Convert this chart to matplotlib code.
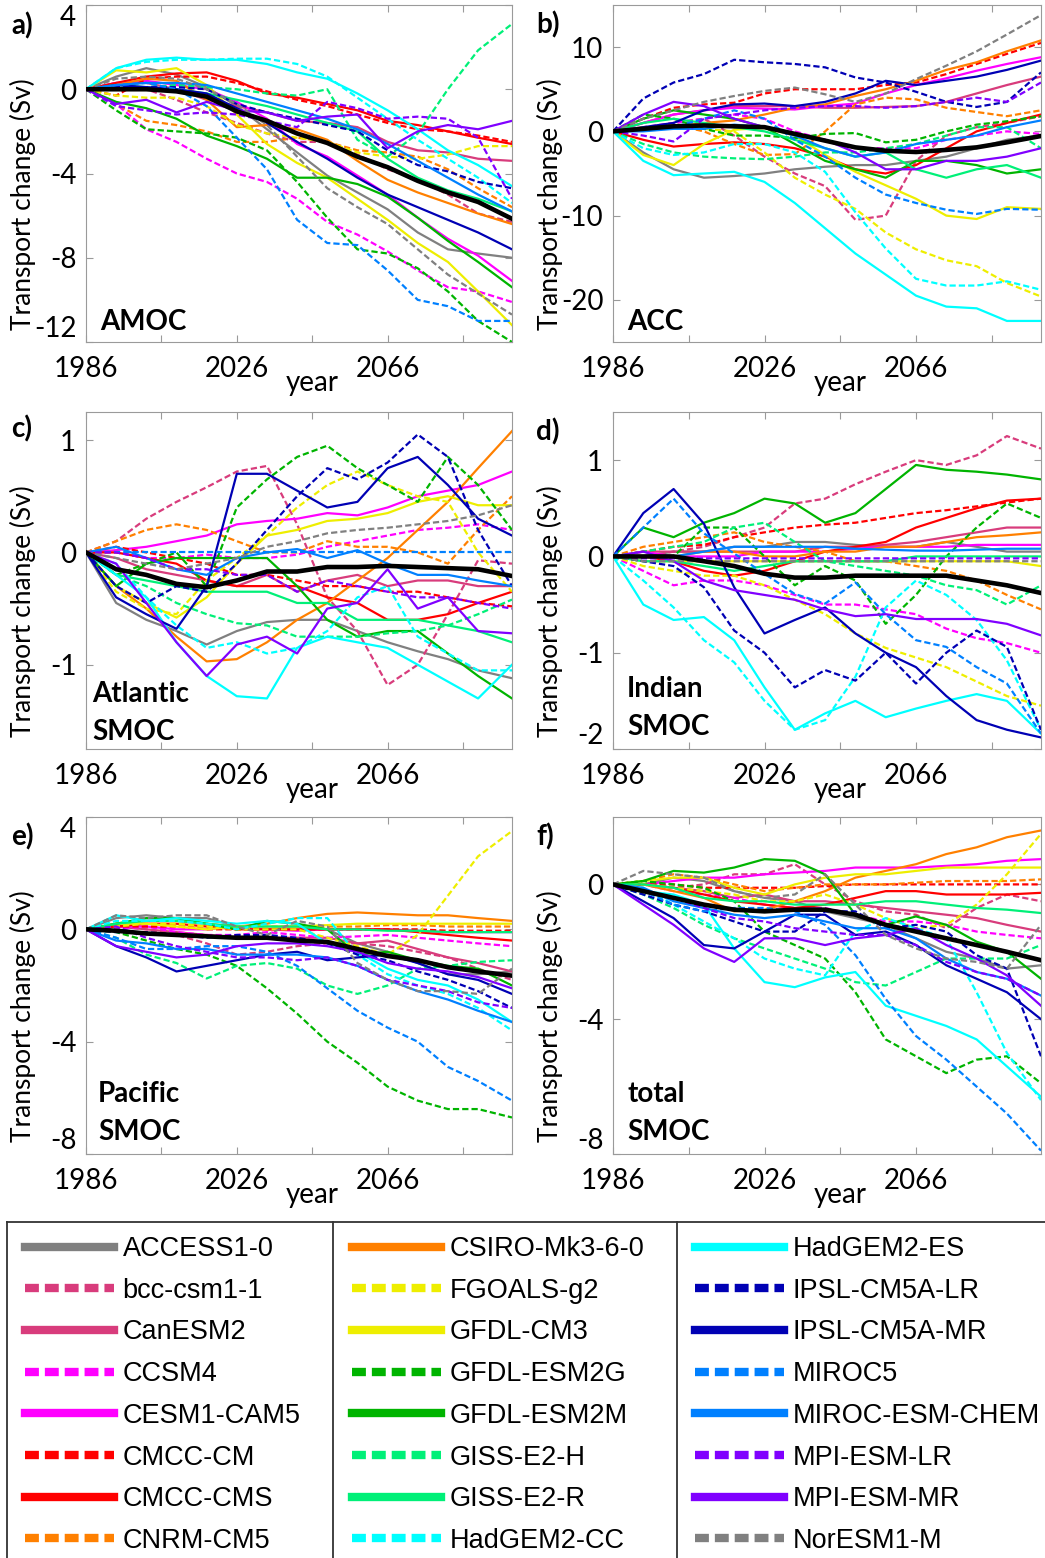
import matplotlib
matplotlib.use("Agg")
import matplotlib.pyplot as plt
from matplotlib.lines import Line2D

plt.rcParams["font.family"] = ["Lato", "DejaVu Sans"]
plt.rcParams["lines.scale_dashes"] = False

years = [1986, 1994, 2002, 2010, 2018, 2026, 2034, 2042, 2050, 2058, 2066, 2074, 2082, 2090, 2099]

models = ["ACCESS1-0", "bcc-csm1-1", "CanESM2", "CCSM4", "CESM1-CAM5", "CMCC-CM", "CMCC-CMS", "CNRM-CM5",
          "CSIRO-Mk3-6-0", "FGOALS-g2", "GFDL-CM3", "GFDL-ESM2G", "GFDL-ESM2M", "GISS-E2-H", "GISS-E2-R",
          "HadGEM2-CC", "HadGEM2-ES", "IPSL-CM5A-LR", "IPSL-CM5A-MR", "MIROC5", "MIROC-ESM-CHEM",
          "MPI-ESM-LR", "MPI-ESM-MR", "NorESM1-M"]
colors = ["#808080", "#D83C7C", "#D83C7C", "#FF00FF", "#FF00FF", "#FF0000", "#FF0000", "#FF8000",
          "#FF8000", "#EEEE00", "#EEEE00", "#00B400", "#00B400", "#00F078", "#00F078",
          "#00FFFF", "#00FFFF", "#0000B4", "#0000B4", "#0080FF", "#0080FF",
          "#8000FF", "#8000FF", "#808080"]
dashed = [False, True, False, True, False, True, False, True,
          False, True, False, True, False, True, False,
          True, False, True, False, True, False,
          True, False, True]

# a) AMOC
amoc = [
    [0, 0.6, 1.0, 0.7, 0.1, -0.8, -1.9, -3.0, -4.1, -4.9, -5.7, -6.8, -7.6, -7.8, -8.0],
    [0, 0.0, 0.0, -0.5, -1.1, -1.6, -2.1, -2.5, -2.5, -3.1, -3.8, -4.3, -5.0, -5.9, -6.3],
    [0, 0.3, 0.3, 0.0, -0.5, -0.8, -1.1, -1.5, -1.6, -1.8, -2.5, -2.9, -3.0, -3.3, -3.4],
    [0, -0.7, -1.9, -2.5, -3.3, -4.0, -4.4, -5.2, -6.3, -6.9, -7.7, -8.6, -9.4, -9.6, -10.1],
    [0, 0.3, 0.4, 0.2, 0.0, -0.6, -1.4, -2.6, -3.2, -4.1, -5.0, -6.1, -7.1, -7.9, -9.1],
    [0, -0.3, 0.5, 0.6, 0.6, 0.3, -0.1, -0.5, -0.8, -1.2, -1.6, -1.9, -2.0, -2.2, -2.5],
    [0, 0.3, 0.6, 0.75, 0.8, 0.4, -0.2, -0.4, -0.7, -1.0, -1.5, -1.7, -2.0, -2.3, -2.6],
    [0, -0.7, -1.5, -1.7, -2.0, -2.5, -2.5, -2.3, -2.5, -2.9, -3.0, -3.2, -3.8, -4.7, -5.6],
    [0, 0.2, 0.5, 0.4, -0.5, -1.8, -1.7, -1.9, -2.4, -3.4, -4.3, -4.9, -5.4, -5.9, -6.4],
    [0, -0.3, -0.4, -0.4, -0.8, -1.7, -2.1, -2.3, -2.5, -3.0, -3.2, -3.3, -3.1, -2.7, -2.7],
    [0, 0.9, 0.8, 1.0, 0.2, -1.2, -2.6, -3.5, -4.2, -5.2, -6.2, -7.3, -8.2, -9.6, -11.2],
    [0, -1.0, -1.9, -2.0, -2.1, -2.3, -2.9, -4.4, -6.1, -7.6, -7.8, -8.5, -9.6, -11.0, -12.0],
    [0, -0.6, -0.9, -1.4, -2.2, -2.7, -3.3, -4.2, -4.2, -4.5, -5.1, -6.1, -7.2, -8.2, -9.4],
    [0, 0.0, 0.1, 0.2, 0.1, 0.0, -0.2, -0.3, 0.0, -2.4, -3.2, -2.1, 0.0, 1.85, 3.1],
    [0, 0.2, 0.1, 0.0, -0.2, -0.5, -0.8, -1.2, -1.6, -2.0, -3.3, -4.2, -4.8, -5.2, -5.8],
    [0, 1.0, 1.3, 1.4, 1.4, 1.45, 1.45, 1.2, 0.6, -0.4, -1.4, -2.4, -3.3, -4.2, -5.4],
    [0, 1.0, 1.4, 1.5, 1.4, 1.4, 1.2, 0.8, 0.5, -0.2, -1.0, -1.9, -2.9, -3.6, -4.6],
    [0, 0.1, 0.1, 0.1, 0.0, -0.7, -1.1, -1.4, -1.7, -2.0, -2.9, -3.6, -3.9, -4.4, -4.7],
    [0, 0.2, 0.1, 0.0, -0.2, -0.9, -1.6, -2.5, -3.3, -4.2, -5.0, -5.6, -6.2, -6.8, -7.6],
    [0, 0.2, 0.3, 0.0, -0.8, -2.3, -3.8, -6.2, -7.3, -7.4, -8.6, -10.0, -10.3, -11.0, -11.0],
    [0, 0.2, 0.3, 0.3, 0.2, -0.2, -0.6, -1.0, -1.4, -1.9, -2.6, -3.4, -4.2, -5.0, -5.8],
    [0, -0.8, -1.0, -1.2, -1.1, -1.2, -1.5, -1.8, -0.6, -0.9, -1.4, -1.3, -1.4, -2.3, -5.2],
    [0, -0.7, -0.5, -1.1, -0.6, -1.0, -1.1, -1.5, -1.3, -1.2, -2.8, -2.0, -1.7, -1.9, -1.5],
    [0, 0.5, 0.6, 0.5, 0.0, -0.7, -1.7, -3.2, -4.7, -5.6, -6.4, -7.6, -8.8, -9.7, -10.7],
]
amoc_mean = [0, 0.0, 0.0, -0.1, -0.35, -1.05, -1.5, -2.1, -2.55, -3.2, -3.7, -4.35, -4.9, -5.35, -6.15]

# b) ACC
acc = [
    [0, -2.5, -4.5, -5.5, -5.3, -5.0, -4.5, -4.2, -4.0, -4.0, -3.5, -3.0, -2.0, -1.0, -0.5],
    [0, 0.3, 1.0, 1.5, -0.5, -3.0, -5.0, -6.5, -10.5, -10.0, -3.5, -0.5, 0.5, 1.0, 1.8],
    [0, 1.0, 2.0, 2.5, 3.0, 3.0, 3.0, 2.8, 2.8, 2.9, 3.0, 3.5, 4.5, 5.5, 6.5],
    [0, 0.5, 1.0, 1.5, 2.0, 1.5, 0.0, -1.0, -2.0, -2.0, -2.0, -1.0, -0.5, 0.0, -0.3],
    [0, 1.0, 2.0, 2.5, 2.8, 2.7, 2.6, 3.0, 3.3, 4.5, 5.5, 6.3, 7.2, 8.0, 8.8],
    [0, 1.5, 2.8, 3.2, 3.4, 4.5, 5.0, 5.0, 5.0, 5.5, 5.8, 6.8, 8.0, 9.2, 10.5],
    [0, -1.0, -1.8, -1.5, -1.3, -1.5, -2.0, -3.0, -4.5, -5.0, -4.0, -2.0, 0.0, 1.0, 2.0],
    [0, 0.5, 0.8, 0.0, -1.5, -2.8, -2.7, 0.0, 3.2, 4.0, 3.8, 2.8, 2.3, 1.8, 2.5],
    [0, 0.5, 0.5, 1.0, 1.3, 2.0, 2.8, 3.2, 4.2, 5.0, 6.0, 7.3, 8.2, 9.5, 10.8],
    [0, 0.5, 0.5, 0.3, 0.0, -2.5, -5.5, -7.5, -9.2, -12.0, -14.0, -15.3, -16.0, -18.0, -19.6],
    [0, -2.8, -4.0, -1.5, 0.2, 0.4, -0.5, -2.8, -4.8, -6.4, -8.0, -10.0, -10.4, -9.0, -9.2],
    [0, 2.0, 1.5, 0.3, -0.5, -0.5, -0.8, -0.3, -0.2, -1.3, -1.0, 0.0, 0.8, 1.2, 1.8],
    [0, 1.5, 2.5, 2.0, 1.5, 0.5, -1.5, -3.5, -4.5, -5.5, -3.5, -3.5, -4.0, -5.0, -4.5],
    [0, -1.5, -2.5, -3.0, -3.2, -3.3, -3.0, -2.5, -2.5, -2.0, -1.5, -0.5, 0.5, 0.5, -2.0],
    [0, 1.0, 1.5, 1.0, 0.5, 0.0, -1.0, -2.0, -3.0, -2.5, -4.5, -5.5, -4.5, -4.0, -5.5],
    [0, -2.0, -2.8, -2.5, -1.5, -1.5, -2.5, -4.8, -9.6, -13.9, -17.5, -18.3, -18.3, -17.8, -18.8],
    [0, -3.5, -5.2, -5.0, -4.8, -6.0, -8.5, -11.5, -14.5, -17.0, -19.5, -20.8, -21.0, -22.5, -22.5],
    [0, 3.9, 5.8, 6.8, 8.5, 8.2, 8.0, 7.6, 6.4, 5.8, 4.7, 3.5, 2.9, 3.5, 7.0],
    [0, 0.5, 1.0, 2.5, 3.2, 3.3, 3.0, 3.5, 4.5, 6.0, 5.5, 6.0, 6.5, 7.3, 8.4],
    [0, 0.3, 0.5, 1.5, 2.5, 1.5, -1.0, -3.0, -5.5, -7.5, -8.5, -9.3, -9.8, -9.2, -9.3],
    [0, 0.0, 0.3, 0.3, 0.8, 0.5, -0.5, -2.0, -3.0, -2.5, -1.5, -1.0, -0.5, 0.5, 1.3],
    [0, -0.5, -1.2, 1.5, 2.0, 2.5, 2.8, 3.0, 3.0, 2.8, 3.0, 3.5, 4.0, 3.5, 5.8],
    [0, 2.0, 3.5, 3.0, 1.5, 0.5, -0.2, -1.0, -2.5, -4.5, -4.5, -3.5, -3.5, -3.0, -2.0],
    [0, 1.5, 2.5, 3.5, 4.2, 4.8, 5.2, 4.4, 3.5, 4.5, 6.2, 7.8, 9.5, 11.5, 13.8],
]
acc_mean = [0, 0.3, 0.6, 0.7, 0.6, 0.5, -0.3, -1.1, -1.9, -2.3, -2.45, -2.2, -1.9, -1.3, -0.55]

# c) Atlantic SMOC
atl = [
    [0, -0.45, -0.6, -0.7, -0.82, -0.7, -0.62, -0.6, -0.6, -0.7, -0.8, -0.88, -0.95, -1.05, -1.12],
    [0, 0.1, 0.3, 0.45, 0.58, 0.72, 0.77, 0.25, -0.4, -0.7, -1.18, -1.0, -0.55, -0.07, -0.1],
    [0, -0.05, -0.15, -0.2, -0.25, -0.3, -0.2, -0.35, -0.25, -0.2, -0.3, -0.25, -0.25, -0.3, -0.3],
    [0, 0.0, -0.05, -0.05, -0.02, -0.05, -0.05, -0.02, 0.05, 0.1, 0.15, 0.2, 0.22, 0.25, 0.2],
    [0, 0.02, 0.05, 0.1, 0.15, 0.25, 0.28, 0.3, 0.35, 0.33, 0.4, 0.5, 0.55, 0.6, 0.72],
    [0, 0.05, 0.0, -0.05, -0.1, -0.2, -0.2, -0.25, -0.3, -0.3, -0.35, -0.35, -0.4, -0.45, -0.48],
    [0, 0.0, -0.05, -0.1, -0.25, -0.3, -0.3, -0.3, -0.4, -0.45, -0.6, -0.6, -0.55, -0.45, -0.35],
    [0, 0.1, 0.2, 0.25, 0.2, 0.1, 0.0, 0.0, 0.1, 0.05, 0.05, 0.0, -0.1, 0.2, 0.5],
    [0, -0.3, -0.5, -0.75, -0.97, -0.95, -0.8, -0.6, -0.45, -0.25, -0.05, 0.2, 0.45, 0.75, 1.08],
    [0, -0.35, -0.5, -0.55, -0.25, -0.05, 0.15, 0.4, 0.6, 0.72, 0.6, 0.5, 0.45, 0.0, -0.35],
    [0, -0.3, -0.45, -0.58, -0.4, -0.1, 0.15, 0.2, 0.28, 0.3, 0.35, 0.45, 0.5, 0.42, 0.42],
    [0, -0.2, -0.1, 0.0, -0.3, 0.4, 0.65, 0.85, 0.95, 0.75, 0.6, 0.45, 0.85, 0.6, 0.2],
    [0, -0.3, -0.1, -0.05, -0.05, -0.05, -0.05, -0.3, -0.6, -0.75, -0.7, -0.7, -0.9, -1.1, -1.3],
    [0, -0.2, -0.3, -0.45, -0.55, -0.63, -0.65, -0.75, -0.75, -0.75, -0.72, -0.7, -0.65, -0.55, -0.42],
    [0, -0.2, -0.25, -0.3, -0.35, -0.35, -0.35, -0.45, -0.45, -0.6, -0.6, -0.6, -0.65, -0.7, -0.8],
    [0, -0.1, -0.4, -0.65, -0.85, -0.8, -0.9, -0.85, -0.7, -0.4, -0.3, -0.75, -0.9, -1.05, -1.05],
    [0, -0.2, -0.4, -0.8, -1.1, -1.28, -1.3, -0.85, -0.75, -0.8, -0.85, -1.0, -1.15, -1.3, -1.0],
    [0, -0.3, -0.45, -0.3, -0.35, -0.1, 0.2, 0.5, 0.75, 0.65, 0.8, 1.05, 0.85, 0.2, -0.3],
    [0, -0.4, -0.55, -0.68, -0.3, 0.7, 0.7, 0.55, 0.4, 0.45, 0.75, 0.85, 0.6, 0.3, 0.15],
    [0, 0.0, 0.0, 0.0, 0.0, 0.0, 0.0, 0.0, 0.0, 0.0, 0.0, 0.0, 0.0, 0.0, 0.0],
    [0, 0.05, -0.05, -0.15, -0.2, -0.05, 0.0, 0.03, -0.05, 0.02, -0.1, -0.2, -0.2, -0.25, -0.3],
    [0, 0.0, -0.05, -0.15, -0.15, -0.2, -0.2, -0.35, -0.25, -0.3, -0.35, -0.4, -0.4, -0.45, -0.5],
    [0, -0.1, -0.45, -0.8, -1.1, -0.82, -0.75, -0.9, -0.5, -0.45, -0.15, -0.5, -0.4, -0.7, -0.72],
    [0, -0.05, -0.1, -0.15, -0.1, -0.05, 0.05, 0.1, 0.17, 0.2, 0.22, 0.25, 0.28, 0.33, 0.42],
]
atl_mean = [0, -0.15, -0.2, -0.28, -0.31, -0.25, -0.17, -0.17, -0.13, -0.13, -0.12, -0.13, -0.14, -0.15, -0.21]

# d) Indian SMOC
ind = [
    [0, 0.0, 0.05, 0.05, 0.1, 0.1, 0.15, 0.15, 0.12, 0.1, 0.1, 0.15, 0.1, 0.05, 0.05],
    [0, 0.0, 0.05, 0.1, 0.2, 0.3, 0.55, 0.6, 0.75, 0.88, 1.0, 0.95, 1.05, 1.25, 1.12],
    [0, 0.05, 0.05, 0.05, 0.05, 0.05, 0.05, 0.1, 0.1, 0.12, 0.15, 0.2, 0.25, 0.3, 0.3],
    [0, -0.15, -0.3, -0.25, -0.25, -0.3, -0.4, -0.5, -0.5, -0.55, -0.6, -0.75, -0.85, -0.9, -1.0],
    [0, 0.05, 0.0, 0.0, 0.0, 0.05, 0.05, 0.05, 0.08, 0.1, 0.1, 0.1, 0.12, 0.12, 0.12],
    [0, 0.05, 0.1, 0.12, 0.2, 0.25, 0.3, 0.33, 0.35, 0.4, 0.45, 0.48, 0.52, 0.56, 0.6],
    [0, 0.0, -0.05, -0.15, -0.2, -0.15, -0.05, 0.05, 0.1, 0.15, 0.3, 0.4, 0.5, 0.58, 0.6],
    [0, 0.1, 0.15, 0.2, 0.25, 0.15, 0.1, 0.05, -0.05, -0.05, -0.1, -0.15, -0.25, -0.4, -0.55],
    [0, 0.0, 0.0, 0.05, 0.05, 0.0, 0.0, 0.05, 0.05, 0.1, 0.1, 0.15, 0.2, 0.22, 0.25],
    [0, -0.1, -0.15, -0.2, -0.2, -0.3, -0.45, -0.6, -0.8, -0.95, -1.05, -1.15, -1.3, -1.45, -1.55],
    [0, -0.05, -0.05, -0.05, -0.05, -0.05, -0.05, -0.05, -0.05, -0.05, -0.05, -0.05, -0.05, -0.05, -0.1],
    [0, 0.0, 0.0, 0.3, 0.3, 0.0, -0.3, -0.1, -0.25, -0.7, -0.4, 0.0, 0.3, 0.55, 0.4],
    [0, 0.3, 0.2, 0.35, 0.45, 0.6, 0.55, 0.35, 0.45, 0.7, 0.95, 0.9, 0.88, 0.85, 0.8],
    [0, 0.05, 0.1, 0.15, 0.3, 0.35, 0.15, -0.05, -0.1, -0.15, -0.2, -0.3, -0.35, -0.5, -0.3],
    [0, -0.05, -0.05, -0.1, -0.15, -0.1, -0.05, -0.05, -0.05, -0.05, 0.0, 0.0, 0.0, 0.0, 0.0],
    [0, -0.25, -0.53, -0.87, -1.1, -1.5, -1.8, -1.7, -1.25, -0.53, -0.25, -0.4, -0.66, -1.08, -1.8],
    [0, -0.5, -0.66, -0.63, -0.87, -1.36, -1.8, -1.63, -1.5, -1.67, -1.58, -1.5, -1.43, -1.5, -1.84],
    [0, -0.05, -0.1, -0.32, -0.77, -1.0, -1.36, -1.18, -1.29, -1.0, -1.32, -1.0, -0.77, -0.94, -1.8],
    [0, 0.45, 0.7, 0.34, -0.32, -0.8, -0.66, -0.53, -0.8, -1.0, -1.15, -1.45, -1.7, -1.8, -1.88],
    [0, 0.3, 0.6, 0.24, 0.03, -0.18, -0.39, -0.49, -0.27, -0.6, -0.87, -0.94, -1.15, -1.32, -1.84],
    [0, 0.0, 0.0, 0.05, 0.1, 0.1, 0.1, 0.1, 0.08, 0.07, 0.06, 0.06, 0.07, 0.08, 0.08],
    [0, -0.02, -0.02, -0.02, -0.02, -0.02, -0.02, -0.02, -0.02, -0.02, -0.02, -0.02, -0.02, -0.02, -0.02],
    [0, 0.05, -0.05, -0.25, -0.35, -0.4, -0.45, -0.55, -0.62, -0.6, -0.65, -0.65, -0.65, -0.7, -0.82],
    [0, -0.05, -0.05, -0.05, -0.05, -0.05, -0.05, -0.05, -0.05, -0.05, -0.05, -0.05, -0.05, -0.05, -0.05],
]
ind_mean = [0, 0.0, 0.0, -0.05, -0.1, -0.18, -0.22, -0.22, -0.2, -0.2, -0.2, -0.2, -0.25, -0.3, -0.38]

# e) Pacific SMOC
pac = [
    [0, 0.4, 0.5, 0.4, 0.4, 0.1, 0.0, 0.1, 0.0, -0.5, -0.8, -1.2, -1.6, -1.6, -1.5],
    [0, 0.1, 0.0, -0.2, -0.5, -0.9, -0.8, -0.6, -0.5, -0.5, -0.6, -0.8, -1.0, -1.4, -1.8],
    [0, 0.1, 0.0, -0.1, -0.2, -0.3, -0.3, -0.3, -0.3, -0.5, -0.4, -0.7, -1.0, -1.2, -1.5],
    [0, 0.0, 0.1, -0.1, -0.2, -0.2, -0.1, -0.2, -0.3, -0.25, -0.2, -0.3, -0.4, -0.5, -0.6],
    [0, 0.1, 0.1, 0.0, 0.0, 0.1, 0.0, -0.05, 0.0, 0.0, 0.0, -0.05, -0.1, -0.1, -0.1],
    [0, 0.1, 0.1, 0.1, 0.0, 0.0, 0.0, 0.0, 0.0, 0.0, 0.0, 0.0, -0.05, -0.05, -0.05],
    [0, 0.1, 0.2, 0.2, 0.1, 0.0, 0.0, 0.0, 0.0, 0.0, 0.0, -0.1, -0.2, -0.3, -0.4],
    [0, 0.2, 0.2, 0.1, 0.1, 0.05, 0.1, 0.1, 0.1, 0.1, 0.15, 0.15, 0.1, 0.1, 0.1],
    [0, 0.2, 0.3, 0.3, 0.2, 0.1, 0.2, 0.4, 0.55, 0.6, 0.55, 0.5, 0.5, 0.4, 0.3],
    [0, 0.1, 0.2, 0.2, 0.1, 0.0, 0.0, 0.0, -0.3, -0.6, -0.9, -0.2, 1.2, 2.6, 3.5],
    [0, 0.2, 0.2, 0.1, 0.0, 0.1, 0.1, 0.1, 0.15, 0.2, 0.2, 0.2, 0.2, 0.2, 0.2],
    [0, -0.1, -0.4, -0.7, -0.9, -1.3, -2.1, -3.0, -4.0, -4.75, -5.6, -6.1, -6.4, -6.4, -6.7],
    [0, 0.2, 0.4, 0.4, 0.2, 0.0, 0.3, 0.2, 0.0, -0.9, -0.8, -1.1, -1.3, -1.4, -2.0],
    [0, -0.3, -0.9, -1.2, -1.75, -1.3, -1.2, -1.4, -2.0, -2.3, -2.0, -1.4, -1.3, -1.16, -1.1],
    [0, 0.2, 0.3, 0.3, 0.2, 0.1, 0.1, 0.1, 0.0, 0.0, -0.05, -0.05, -0.1, -0.1, -0.1],
    [0, 0.3, 0.3, 0.3, 0.2, 0.0, 0.2, 0.4, 0.4, -0.9, -1.6, -2.0, -2.3, -2.8, -3.6],
    [0, 0.5, 0.3, 0.4, 0.3, 0.2, 0.3, 0.2, -0.5, -0.8, -1.4, -1.8, -2.0, -2.5, -3.3],
    [0, -0.1, -0.1, -0.2, -0.3, -0.2, -0.2, -0.3, -0.5, -0.9, -1.1, -1.5, -1.8, -2.2, -2.8],
    [0, -0.6, -1.0, -1.5, -1.3, -1.1, -0.9, -0.8, -1.1, -1.0, -0.9, -1.2, -1.6, -1.8, -2.3],
    [0, -0.3, -0.7, -0.7, -0.6, -0.6, -0.8, -1.3, -2.1, -2.9, -3.5, -4.0, -4.9, -5.4, -6.1],
    [0, -0.4, -0.5, -0.7, -0.7, -0.9, -0.9, -0.9, -1.0, -1.3, -1.8, -2.2, -2.5, -2.9, -3.3],
    [0, 0.1, -0.3, -0.6, -0.8, -1.0, -1.0, -1.1, -1.0, -1.3, -1.8, -2.0, -2.2, -2.6, -2.8],
    [0, -0.6, -0.8, -1.0, -0.9, -0.6, -0.5, -0.5, -0.6, -0.8, -1.2, -1.4, -1.5, -1.7, -2.1],
    [0, 0.5, 0.4, 0.5, 0.5, 0.1, -0.2, 0.3, 0.1, -1.2, -1.8, -2.2, -2.2, -2.3, -1.4],
]
pac_mean = [0, -0.05, -0.15, -0.2, -0.25, -0.3, -0.3, -0.4, -0.45, -0.7, -0.95, -1.1, -1.35, -1.5, -1.65]

# f) total SMOC
tot = [
    [0, 0.0, 0.2, 0.1, -0.2, -0.4, -0.5, -0.8, -1.0, -1.2, -1.6, -2.0, -2.2, -2.5, -2.4],
    [0, 0.0, -0.1, 0.0, 0.3, 0.3, 0.6, 0.0, -0.5, -0.8, -0.9, -1.3, -0.7, -0.3, -0.5],
    [0, 0.0, -0.1, -0.2, -0.4, -0.3, -0.5, -0.5, -0.6, -0.7, -0.8, -0.9, -1.0, -1.2, -1.4],
    [0, 0.0, -0.2, -0.3, -0.4, -0.6, -0.7, -0.7, -0.9, -1.1, -1.1, -1.2, -1.4, -1.5, -1.6],
    [0, 0.0, 0.1, 0.2, 0.2, 0.3, 0.35, 0.4, 0.5, 0.5, 0.5, 0.55, 0.6, 0.7, 0.75],
    [0, 0.0, 0.0, -0.1, -0.1, -0.1, -0.1, -0.05, 0.0, 0.0, 0.0, 0.0, 0.0, 0.0, 0.0],
    [0, 0.0, -0.1, -0.3, -0.5, -0.6, -0.7, -0.6, -0.4, -0.2, -0.2, -0.3, -0.3, -0.3, -0.25],
    [0, 0.1, 0.3, 0.2, 0.0, -0.2, -0.1, 0.0, 0.0, 0.0, 0.05, 0.1, 0.1, 0.1, 0.15],
    [0, 0.0, -0.2, -0.4, -0.8, -0.75, -0.5, -0.2, 0.2, 0.4, 0.6, 0.9, 1.1, 1.4, 1.6],
    [0, 0.0, -0.1, -0.2, -0.3, -0.5, -0.5, -0.3, -0.6, -1.0, -1.3, -1.2, -0.6, 0.3, 1.5],
    [0, 0.1, 0.2, 0.2, -0.1, -0.3, 0.0, 0.2, 0.3, 0.3, 0.4, 0.5, 0.5, 0.5, 0.5],
    [0, 0.1, 0.0, -0.1, -0.5, -1.4, -1.8, -2.2, -3.2, -4.6, -5.1, -5.6, -5.2, -5.1, -5.9],
    [0, 0.1, 0.4, 0.35, 0.5, 0.75, 0.7, 0.3, -0.9, -1.2, -0.95, -1.2, -1.7, -2.0, -2.8],
    [0, -0.3, -0.7, -1.2, -1.6, -1.9, -2.2, -2.5, -2.9, -3.0, -2.6, -2.2, -2.2, -2.2, -1.8],
    [0, 0.0, -0.1, -0.4, -0.5, -0.5, -0.6, -0.6, -0.6, -0.5, -0.5, -0.6, -0.7, -0.75, -0.85],
    [0, -0.1, -0.6, -1.1, -1.6, -2.2, -2.5, -2.7, -1.4, -1.0, -1.3, -1.6, -3.2, -5.0, -6.4],
    [0, -0.2, -0.3, -0.6, -1.9, -2.9, -3.05, -2.76, -2.6, -3.6, -3.9, -4.2, -4.6, -5.4, -6.3],
    [0, -0.3, -0.6, -0.8, -1.1, -1.4, -1.4, -0.8, -0.8, -1.3, -1.2, -1.4, -2.1, -2.5, -5.1],
    [0, -0.5, -1.0, -1.8, -1.9, -1.4, -0.9, -0.9, -1.5, -1.4, -1.8, -2.4, -2.8, -3.2, -4.0],
    [0, -0.2, -0.6, -0.8, -0.7, -0.7, -0.8, -1.2, -2.1, -3.4, -4.5, -5.2, -6.0, -6.8, -7.9],
    [0, -0.1, -0.5, -0.7, -0.9, -1.0, -0.9, -1.1, -1.3, -1.3, -1.6, -2.2, -2.6, -2.8, -3.3],
    [0, -0.2, -0.4, -0.7, -1.0, -1.1, -1.3, -1.4, -1.5, -1.5, -1.8, -2.3, -2.6, -2.8, -3.3],
    [0, -0.6, -1.2, -1.9, -2.3, -1.6, -1.6, -1.8, -1.6, -1.5, -1.3, -1.8, -2.2, -2.7, -3.6],
    [0, 0.4, 0.3, 0.2, -0.2, -0.4, -0.3, 0.3, -0.6, -1.5, -1.9, -2.2, -2.3, -2.5, -1.2],
]
tot_mean = [0, -0.2, -0.4, -0.6, -0.75, -0.8, -0.75, -0.75, -0.9, -1.2, -1.4, -1.6, -1.8, -2.0, -2.25]

W, H = 1045, 1558
fig = plt.figure(figsize=(W / 100, H / 100), dpi=100)

grey = "#9a9a9a"
fs = 20


def px_axes(x0, y0, x1, y1):
    return fig.add_axes([x0 / W, 1 - y1 / H, (x1 - x0) / W, (y1 - y0) / H])


def draw_panel(ax, rows, mean, ylim, yticks, letter, letter_pos, names, name_x, name_y):
    for row, c, d in zip(rows, colors, dashed):
        ln, = ax.plot(years, row, color=c, lw=1.6)
        if d:
            ln.set_dashes((4.5, 2.2))
    ax.plot(years, mean, color="black", lw=3.3, zorder=5)
    ax.set_xlim(1986, 2099)
    ax.set_ylim(*ylim)
    ax.set_xticks(range(1986, 2100, 20))
    ax.set_xticklabels(["1986", "", "2026", "", "2066", ""])
    ax.set_yticks(yticks)
    ax.set_yticklabels([str(t) for t in yticks])
    ax.tick_params(direction="in", top=True, right=True, color=grey, length=5,
                   labelsize=fs)
    ax.tick_params(axis="x", pad=10)
    ax.tick_params(axis="y", pad=7)
    for s in ax.spines.values():
        s.set_color(grey)
    for tick, val in zip(ax.yaxis.get_major_ticks(), yticks):
        if val == ylim[1]:
            tick.label1.set_va("top")
        elif val == ylim[0]:
            tick.label1.set_va("bottom")
    ax.set_ylabel("Transport change (Sv)", fontsize=19)
    ax.yaxis.set_label_coords(-0.117, 0.41)
    ax.set_xlabel("year", fontsize=fs)
    ax.xaxis.set_label_coords(0.53, -0.082)
    for txt, yy in zip(names, name_y):
        ax.text(name_x, yy, txt, transform=ax.transAxes, fontsize=fs,
                fontweight="bold", va="baseline", ha="left")
    fig.text(letter_pos[0] / W, 1 - letter_pos[1] / H, letter, fontsize=fs,
             fontweight="bold", va="center", ha="left")


ax_a = px_axes(86, 5, 512, 342)
ax_b = px_axes(613, 5, 1041, 342)
ax_c = px_axes(86, 412, 512, 749)
ax_d = px_axes(613, 412, 1041, 749)
ax_e = px_axes(86, 817, 512, 1154)
ax_f = px_axes(613, 817, 1041, 1154)

draw_panel(ax_a, amoc, amoc_mean, (-12, 4), [-12, -8, -4, 0, 4], "a)", (11, 26),
           ["AMOC"], 0.033, [0.036])
draw_panel(ax_b, acc, acc_mean, (-25, 15), [-20, -10, 0, 10], "b)", (536, 25),
           ["ACC"], 0.033, [0.036])
draw_panel(ax_c, atl, atl_mean, (-1.75, 1.25), [-1, 0, 1], "c)", (11, 429),
           ["Atlantic", "SMOC"], 0.014, [0.139, 0.027])
draw_panel(ax_d, ind, ind_mean, (-2, 1.5), [-2, -1, 0, 1], "d)", (536, 432),
           ["Indian", "SMOC"], 0.033, [0.154, 0.042])
draw_panel(ax_e, pac, pac_mean, (-8, 4), [-8, -4, 0, 4], "e)", (11, 837),
           ["Pacific", "SMOC"], 0.028, [0.154, 0.042])
draw_panel(ax_f, tot, tot_mean, (-8, 2), [-8, -4, 0], "f)", (536, 837),
           ["total", "SMOC"], 0.033, [0.154, 0.042])

# legend box with three columns
edge = "#333333"
fig.add_artist(Line2D([7 / W, 1], [1 - 1222 / H] * 2, transform=fig.transFigure, color=edge, lw=1.3))
fig.add_artist(Line2D([7 / W] * 2, [0, 1 - 1222 / H], transform=fig.transFigure, color=edge, lw=1.3))
for xs in (333, 677):
    fig.add_artist(Line2D([xs / W] * 2, [0, 1 - 1222 / H], transform=fig.transFigure, color=edge, lw=1.3))

handles = []
for c, d in zip(colors, dashed):
    h = Line2D([], [], color=c, lw=6)
    if d:
        h.set_dashes((10, 4.3))
    handles.append(h)

for col, x0 in enumerate((25, 352, 695)):
    fig.legend(handles[col * 8:(col + 1) * 8], models[col * 8:(col + 1) * 8],
               loc="upper left", bbox_to_anchor=(x0 / W, 1 - 1236 / H),
               bbox_transform=fig.transFigure, frameon=False, borderpad=0,
               borderaxespad=0, handlelength=3.3, handletextpad=0.3,
               labelspacing=0.58, prop={"family": "Liberation Sans", "size": 19.5})

fig.savefig("out.png", dpi=100)
